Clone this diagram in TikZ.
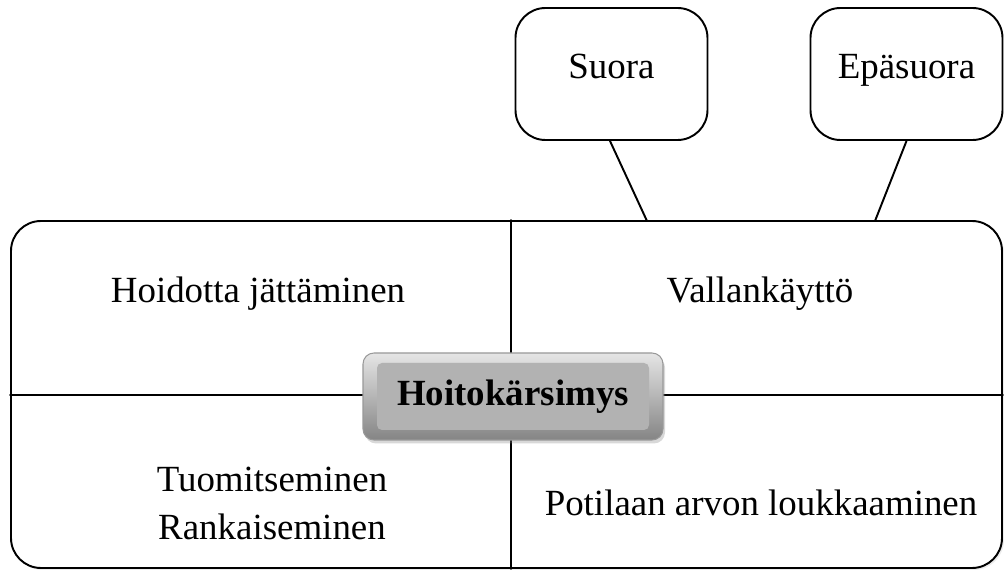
\documentclass[tikz,border=0pt]{standalone}
\usepackage{fontspec}
\setmainfont{Liberation Serif}
\usetikzlibrary{shadows}

\tikzset{
  mainFrame/.style = {draw, line width=1.1pt, rounded corners=0.6cm, minimum width=19.82cm, minimum height=6.94cm, inner sep=0pt},
  callout/.style = {draw, line width=1.1pt, rounded corners=0.6cm, minimum width=3.84cm, minimum height=2.64cm, inner sep=0pt, text height=0.55cm, text depth=0.35cm},
  centerBox/.style = {draw=black!40, line width=0.6pt, rounded corners=0.22cm, minimum width=6cm, minimum height=1.74cm,
    top color=black!10, bottom color=black!48, font=\fontsize{21}{27.3}\selectfont\bfseries,
    drop shadow={opacity=0.3, shadow xshift=0.04cm, shadow yshift=-0.07cm},
    path picture={\fill[black!30, rounded corners=0.1cm] ([xshift=0.28cm,yshift=-0.2cm]path picture bounding box.north west) rectangle ([xshift=-0.28cm,yshift=0.2cm]path picture bounding box.south east);}},
  quadText/.style = {align=center}
}

\begin{document}
\begin{tikzpicture}[line cap=round, font=\fontsize{21}{27.3}\selectfont]
    \useasboundingbox (0,0) rectangle (20.08,11.4);

    \node[mainFrame, drop shadow={opacity=0.15, shadow xshift=0.04cm, shadow yshift=-0.04cm}, fill=white](frame) at (10.13,3.51) {};

    \node[quadText](hoidotta) at (5.16,5.52) {Hoidotta jättäminen};
    \node[quadText](vallankaytto) at (15.2,5.52) {Vallankäyttö};
    \node[quadText](tuomitseminen) at (5.44,1.34) {Tuomitseminen\\Rankaiseminen};
    \node[quadText](potilaanArvo) at (15.22,1.34) {Potilaan arvon loukkaaminen};

    \node[callout](suora) at (12.23,9.92) {Suora};
    \node[callout](epasuora) at (18.13,9.92) {Epäsuora};

    \coordinate (suoraEnd) at (12.94,6.98);
    \coordinate (epasuoraEnd) at (17.5,6.98);

    % dividers, center box sits on top of them
    \draw [line width=1.1pt] (frame.north -| 10.22,0) -- (frame.south -| 10.22,0);
    \draw [line width=1.1pt] (frame.west |- 0,3.5) -- (frame.east |- 0,3.5);

    \node[centerBox](hoitokarsimys) at (10.26,3.47) {Hoitokärsimys};

    \draw [line width=1.1pt] ([xshift=-0.03cm]suora.south) -- (suoraEnd);
    \draw [line width=1.1pt] (epasuora.south) -- (epasuoraEnd);
\end{tikzpicture}
\end{document}
